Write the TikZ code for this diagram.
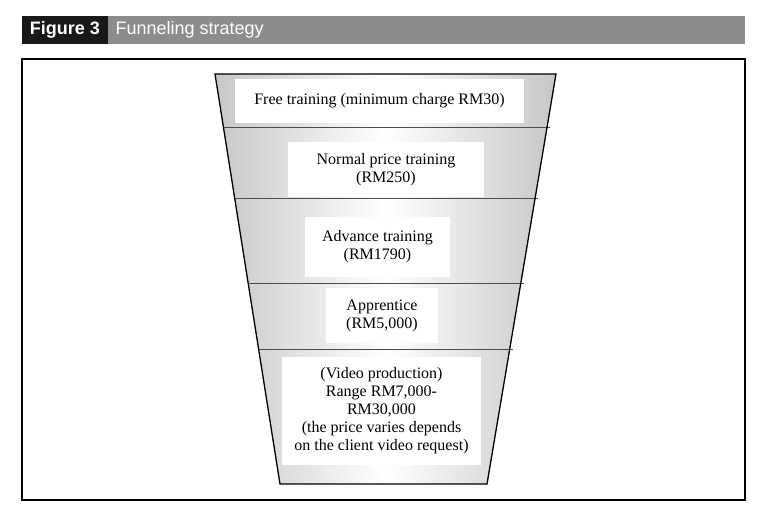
\documentclass[tikz,border=0pt]{standalone}
\usepackage{fontspec}
\setmainfont{Liberation Serif}
\newfontfamily\hdr{Liberation Sans}
\begin{document}
\begin{tikzpicture}[x=1pt,y=-1pt,
  tbox/.style={fill=white,inner sep=0pt,align=center,font=\fontsize{16}{18}\selectfont},
  sep/.style={draw=black!70,line width=0.8pt}]
\useasboundingbox (0,0) rectangle (758,513);
\fill[black!90] (22,16) rectangle (108,44);
\fill[black!45] (108,16) rectangle (745,44);
\node[font=\hdr\bfseries\fontsize{18}{20}\selectfont,text=white] (fig) at (65,30) {Figure 3};
\node[font=\hdr\fontsize{18}{20}\selectfont,text=white,anchor=west] (ttl) at (112,30) {Funneling strategy};
\draw[line width=1.2pt] (22,59) rectangle (745,500);
\coordinate (tl) at (215,74); \coordinate (tr) at (556,74);
\coordinate (bl) at (280,484); \coordinate (br) at (487,484);
\shade[left color=black!22,right color=black!22,middle color=white] (tl)--(tr)--(br)--(bl)--cycle;
\foreach \y in {127,198,283,349}{
  \draw[sep] ({215+0.15854*(\y-74)},\y) -- ({559-0.16829*(\y-74)},\y);}
\draw[line width=1.3pt] (tl)--(tr)--(br)--(bl)--cycle;
\node[tbox,minimum width=289,minimum height=44] (a) at (379.5,101) {Free training (minimum charge RM30)};
\node[tbox,minimum width=196,minimum height=55] (b) at (386,169.5) {Normal price training\\(RM250)};
\node[tbox,minimum width=145,minimum height=60] (c) at (377.5,247) {Advance training\\(RM1790)};
\node[tbox,minimum width=112,minimum height=55] (d) at (382,315.5) {Apprentice\\(RM5,000)};
\node[tbox,minimum width=199,minimum height=108] (e) at (381.5,411) {(Video production)\\Range RM7,000-\\RM30,000\\(the price varies depends\\on the client video request)};
\end{tikzpicture}
\end{document}
